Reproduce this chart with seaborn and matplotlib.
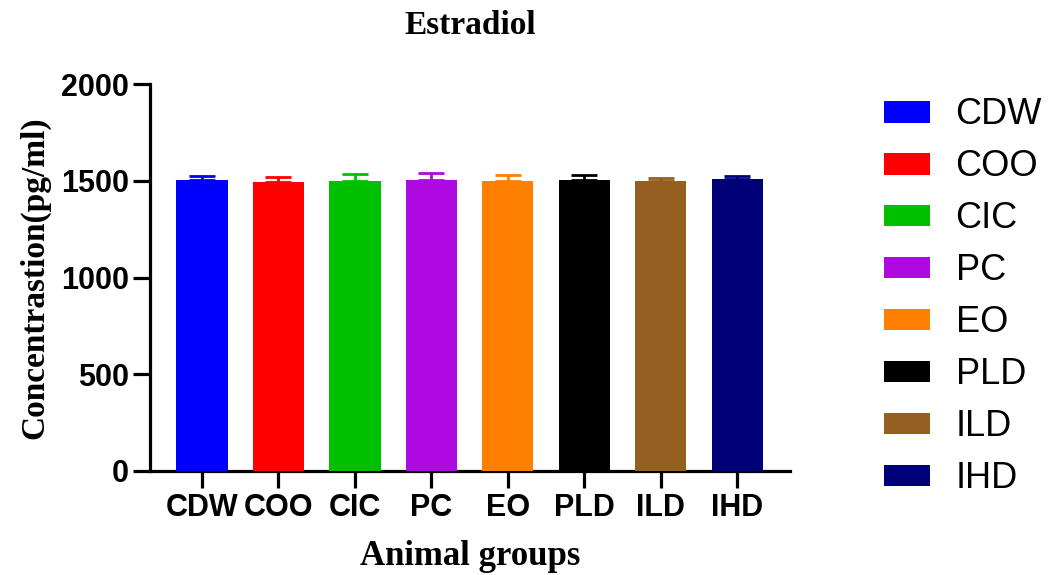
import seaborn as sns
import matplotlib.pyplot as plt
import pandas as pd

# values (mean + upper SEM)
groups = ['CDW', 'COO', 'CIC', 'PC', 'EO', 'PLD', 'ILD', 'IHD']
means = [1502, 1492, 1497, 1505, 1499, 1505, 1497, 1507]
sems = [24, 27, 38, 37, 31, 25, 19, 16]
colors = ['#0000ff', '#ff0000', '#00c000', '#ae09e0', '#ff8000', '#000000', '#936020', '#000078']

df = pd.DataFrame({'group': groups, 'conc': means, 'err': sems})

settings = {'figure.figsize': [10.48, 5.75], 'figure.dpi': 100, 'figure.facecolor': 'white',
            'axes.linewidth': 2.3, 'xtick.major.width': 2.3, 'ytick.major.width': 2.3,
            'xtick.major.size': 12, 'ytick.major.size': 12}

with plt.rc_context(settings):
    fig = plt.figure()
    ax = fig.add_axes([150/1048, 104/575, 640/1048, 387/575])

    sns.barplot(data=df, x='group', y='conc', hue='group', palette=colors, saturation=1,
                width=0.67, linewidth=0, legend=True, ax=ax, zorder=3)
    for i in range(len(groups)):
        ax.errorbar(i, means[i], yerr=[[0], [sems[i]]], fmt='none', ecolor=colors[i],
                    elinewidth=2, capsize=9.5, capthick=2, zorder=2)

    ax.set_xlim(-0.68, 7.69)
    ax.set_ylim(0, 2000)
    ax.set_yticks([0, 500, 1000, 1500, 2000])
    ax.spines[['top', 'right']].set_visible(False)

    for lab in ax.get_xticklabels() + ax.get_yticklabels():
        lab.set_family('Liberation Sans')
        lab.set_fontweight('bold')
        lab.set_fontsize(22)
    ax.tick_params(axis='x', pad=4)
    ax.tick_params(axis='y', pad=3)

    ax.set_title('Estradiol', family='Liberation Serif', fontweight='bold', fontsize=24, pad=36)
    ax.set_xlabel('Animal groups', family='Liberation Serif', fontweight='bold', fontsize=25, labelpad=12)
    ax.set_ylabel('Concentrastion(pg/ml)', family='Liberation Serif', fontweight='bold', fontsize=24, labelpad=8)

    ax.legend(loc='upper left', bbox_to_anchor=(870/1048, 1 - 83/575), bbox_transform=fig.transFigure,
              frameon=False, prop={'family': 'Liberation Sans', 'size': 26},
              handlelength=1.25, handleheight=0.55, handletextpad=0.72, labelspacing=0.47,
              borderaxespad=0)

    plt.savefig('out.png')
    plt.close()
